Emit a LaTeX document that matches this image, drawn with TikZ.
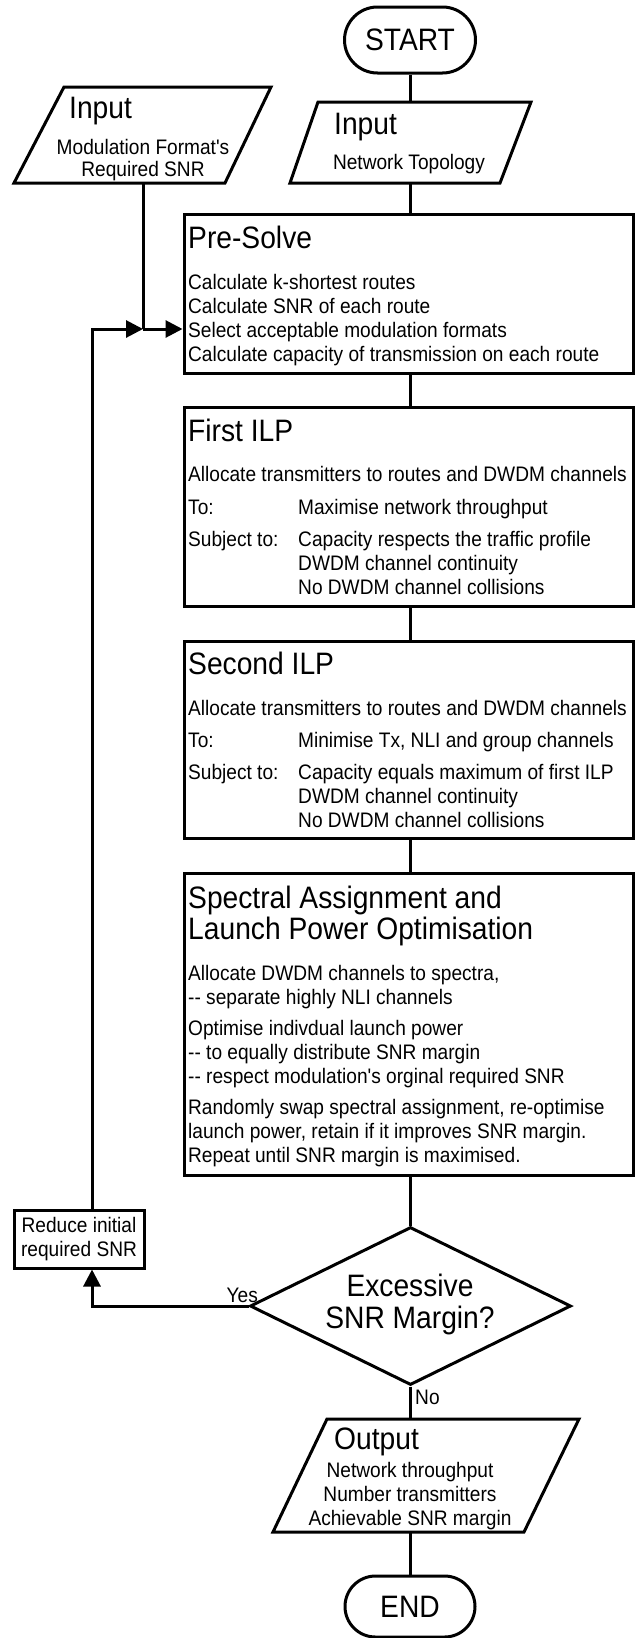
\documentclass[tikz,border=0pt]{standalone}
\usepackage{fontspec}
\setmainfont{Liberation Sans}[Ligatures=TeXOff, FakeStretch=0.91]
\usetikzlibrary{arrows.meta, shapes.geometric, calc}

\tikzset{
  flow/.style={line width=3pt},
  flowarrow/.style={-{Triangle[length=17pt,width=17pt]}},
  box/.style={draw, line width=3pt, inner sep=0pt},
  term/.style={box, font=\fontsize{31}{31}\selectfont},
  dia/.style={draw, diamond, aspect=2, line width=3pt, inner sep=0pt},
  headtxt/.style={inner sep=0pt, font=\fontsize{31}{31}\selectfont},
  bodytxt/.style={inner sep=0pt, font=\fontsize{21}{24}\selectfont},
}

\begin{document}
\begin{tikzpicture}[x=1pt, y=-1pt]
        \useasboundingbox (0,0) rectangle (635,1638);

        % start and the two inputs
        \node[term, rounded corners=33pt, minimum width=131pt, minimum height=66pt] (start) at (410,40) {START};

        \draw[flow] (64,87) -- (271,87) -- (225,183) -- (14,183) -- cycle;
        \node[headtxt, anchor=base west] (inAhead) at (69,118) {Input};
        \node[bodytxt, anchor=base] (inAtxt1) at (143,154) {Modulation Format's};
        \node[bodytxt, anchor=base] (inAtxt2) at (143,176) {Required SNR};
        \coordinate (inAbot) at (143,183);

        \draw[flow] (318,102) -- (531,102) -- (500,183) -- (290,183) -- cycle;
        \node[headtxt, anchor=base west] (inBhead) at (334,134) {Input};
        \node[bodytxt, anchor=base] (inBtxt) at (409,169) {Network Topology};
        \coordinate (inBtop) at (410,102);
        \coordinate (inBbot) at (410,183);

        % pre-solve
        \node[box, minimum width=449pt, minimum height=159pt] (pre) at (408.5,293.5) {};
        \node[headtxt, anchor=base west] (prehead) at (188,248) {Pre-Solve};
        \foreach \t [count=\i] in {Calculate k-shortest routes, Calculate SNR of each route,
            Select acceptable modulation formats, Calculate capacity of transmission on each route}
        {
            \node[bodytxt, anchor=base west] (pre\i) at (188,265+24*\i) {\t};
        };

        % first ILP
        \node[box, minimum width=449pt, minimum height=199pt] (first) at (408.5,506.5) {};
        \node[headtxt, anchor=base west] (firsthead) at (188,441) {First ILP};
        \node[bodytxt, anchor=base west] (firstalloc) at (188,481) {Allocate transmitters to routes and DWDM channels};
        \node[bodytxt, anchor=base west] (firstto) at (188,514) {To:};
        \node[bodytxt, anchor=base west] (firstobj) at (298,514) {Maximise network throughput};
        \node[bodytxt, anchor=base west] (firstsub) at (188,546) {Subject to:};
        \foreach \t [count=\i] in {Capacity respects the traffic profile, DWDM channel continuity, No DWDM channel collisions}
        {
            \node[bodytxt, anchor=base west] (firstcon\i) at (298,522+24*\i) {\t};
        };

        % second ILP
        \node[box, minimum width=449pt, minimum height=197pt] (second) at (408.5,739.5) {};
        \node[headtxt, anchor=base west] (secondhead) at (188,674) {Second ILP};
        \node[bodytxt, anchor=base west] (secondalloc) at (188,715) {Allocate transmitters to routes and DWDM channels};
        \node[bodytxt, anchor=base west] (secondto) at (188,747) {To:};
        \node[bodytxt, anchor=base west] (secondobj) at (298,747) {Minimise Tx, NLI and group channels};
        \node[bodytxt, anchor=base west] (secondsub) at (188,779) {Subject to:};
        \foreach \t [count=\i] in {Capacity equals maximum of first ILP, DWDM channel continuity, No DWDM channel collisions}
        {
            \node[bodytxt, anchor=base west] (secondcon\i) at (298,755+24*\i) {\t};
        };

        % spectral assignment
        \node[box, minimum width=449pt, minimum height=302pt] (spec) at (408.5,1024) {};
        \node[headtxt, anchor=base west] (spechead1) at (188,908) {Spectral Assignment and};
        \node[headtxt, anchor=base west] (spechead2) at (188,939) {Launch Power Optimisation};
        \foreach \y/\t [count=\i] in
        {980/{Allocate DWDM channels to spectra,},
         1004/{-- separate highly NLI channels},
         1035/{Optimise indivdual launch power},
         1059/{-- to equally distribute SNR margin},
         1083/{-- respect modulation's orginal required SNR},
         1114/{Randomly swap spectral assignment, re-optimise},
         1138/{launch power, retain if it improves SNR margin.},
         1162/{Repeat until SNR margin is maximised.}
        }
        {
            \node[bodytxt, anchor=base west] (spec\i) at (188,\y) {\t};
        };

        % decision and loop back
        \node[dia, minimum width=321pt, minimum height=158pt] (dec) at (410.5,1306) {};
        \node[headtxt, anchor=base] (dectxt1) at (410,1296) {Excessive};
        \node[headtxt, anchor=base] (dectxt2) at (410,1328) {SNR Margin?};
        \node[box, bodytxt, align=center, minimum width=130pt, minimum height=58pt] (reduce) at (79,1239) {Reduce initial\\required SNR};
        \node[bodytxt, anchor=base east] (yes) at (258,1302) {Yes};
        \node[bodytxt, anchor=base west] (no) at (415,1404) {No};
        \coordinate (join) at (143,329);
        \coordinate (loop) at (92,0);

        % output and end
        \draw[flow] (327,1419) -- (579,1419) -- (524,1532) -- (273,1532) -- cycle;
        \node[headtxt, anchor=base west] (outhead) at (334,1449) {Output};
        \foreach \t [count=\i] in {Network throughput, Number transmitters, Achievable SNR margin}
        {
            \node[bodytxt, anchor=base] (out\i) at (410,1453+24*\i) {\t};
        };
        \coordinate (outtop) at (410,1419);
        \coordinate (outbot) at (410,1532);
        \node[term, rounded corners=30.5pt, minimum width=130pt, minimum height=61pt] (stop) at (410,1606.5) {END};

        % connectors
        \draw[flow] (start) -- (inBtop);
        \draw[flow] (inBbot) -- (inBbot |- pre.north);
        \draw[flow] (pre.south -| start) -- (first.north -| start);
        \draw[flow] (first.south -| start) -- (second.north -| start);
        \draw[flow] (second.south -| start) -- (spec.north -| start);
        \draw[flow] (spec.south -| start) -- (dec.north -| start);
        \draw[flow] (dec.south -| start) -- (outtop);
        \draw[flow] (outbot) -- (stop);
        \draw[flow] (inAbot) -- (join);
        \draw[flow, flowarrow] (join) -- (join -| pre.west);
        \draw[flow, flowarrow] (dec.west) -| (reduce.south -| loop);
        \draw[flow, flowarrow] (reduce.north -| loop) |- (join);
\end{tikzpicture}
\end{document}
